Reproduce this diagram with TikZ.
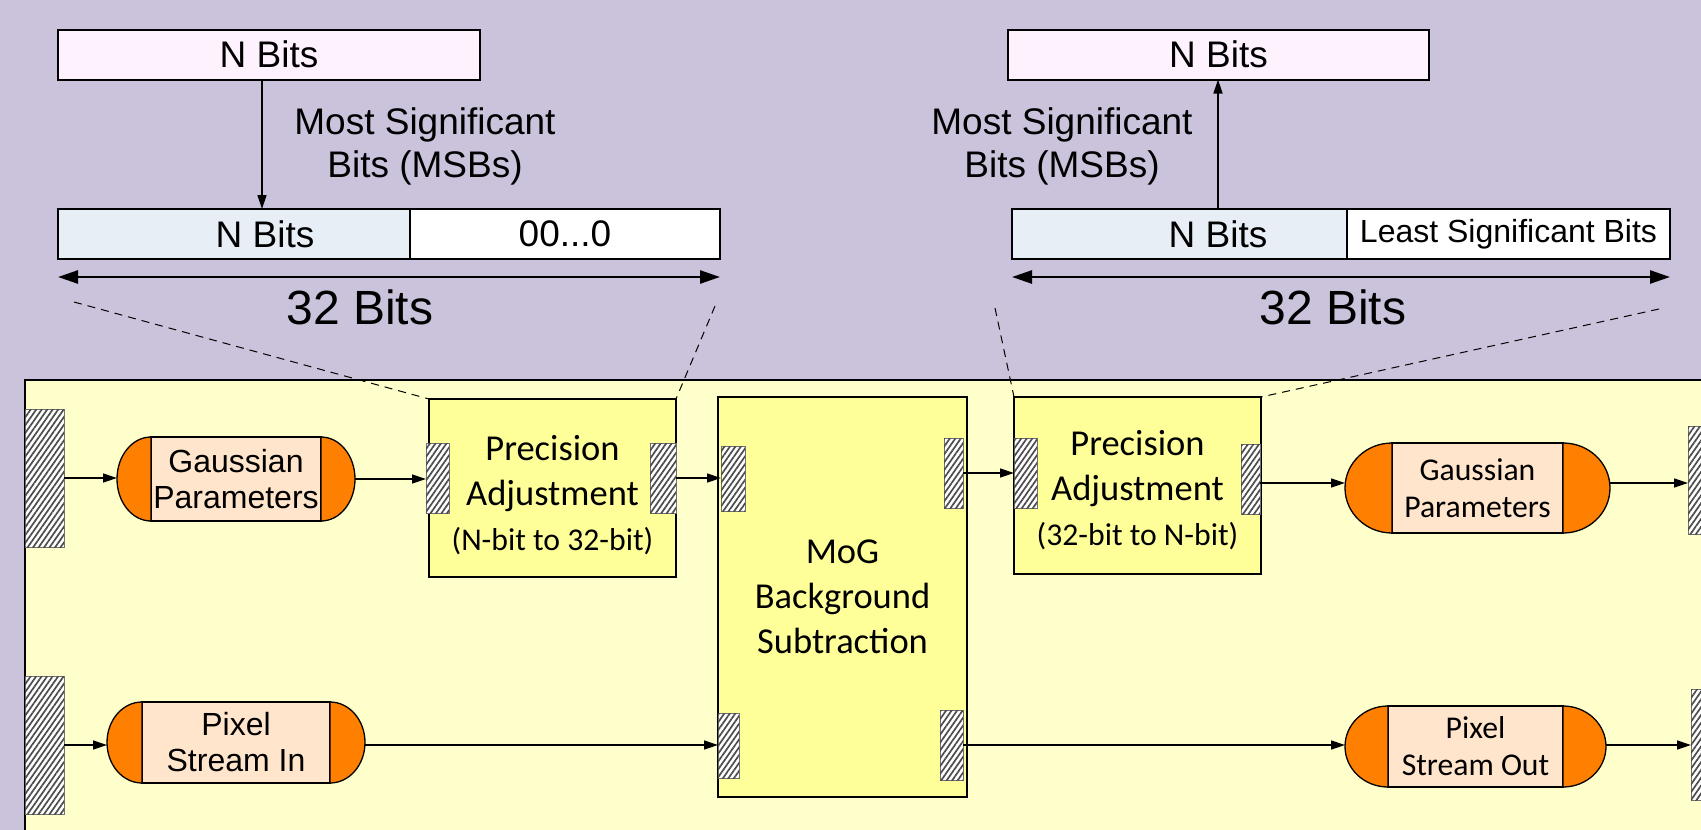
\documentclass[tikz,border=0pt]{standalone}
\usepackage{fontspec}
\setmainfont{Liberation Sans}
\newfontfamily\calibri{Carlito}
\usetikzlibrary{arrows.meta,patterns.meta}

\definecolor{bgpurple}{RGB}{203,195,219}
\definecolor{panelyel}{RGB}{255,255,204}
\definecolor{boxyel}{RGB}{255,255,153}
\definecolor{caporange}{RGB}{255,128,0}
\definecolor{peach}{RGB}{255,229,204}
\definecolor{pinkbox}{RGB}{255,242,255}
\definecolor{bluebox}{RGB}{232,238,245}

\tikzset{
  port/.style={draw=black!55, line width=1pt, fill=white, inner sep=0pt, outer sep=0pt,
    postaction={pattern={Lines[angle=55,distance=4.5pt,line width=1.7pt]}, pattern color=black!70}},
  procbox/.style={draw, line width=1.5pt, fill=boxyel, inner sep=0pt, outer sep=0pt},
  proctext/.style={align=center, font=\calibri\fontsize{36.5}{45}\selectfont},
  termout/.style={inner sep=0pt, outer sep=0pt},
  term/.style={draw, line width=1.3pt, fill=peach, inner sep=0pt, outer sep=0pt, align=center},
  termcap/.style={draw, line width=1.3pt, fill=caporange},
  arialterm/.style={font=\fontsize{32}{36}\selectfont},
  calterm/.style={font=\calibri\fontsize{31.7}{37}\selectfont},
  bitbox/.style={draw, line width=2pt, inner sep=0pt, outer sep=0pt, minimum height=50,
    font=\fontsize{37}{44}\selectfont},
  conn/.style={line width=1.4pt, -{Triangle[length=14pt,width=9pt]}},
  span/.style={line width=2.6pt, {Triangle[length=20pt,width=13pt]}-{Triangle[length=20pt,width=13pt]}},
  zoomline/.style={line width=1pt, dash pattern=on 8pt off 6pt},
  msbtext/.style={align=center, font=\fontsize{37}{43}\selectfont},
  bitstext/.style={font=\fontsize{48}{56}\selectfont}
}

\begin{document}
\begin{tikzpicture}[x=1pt,y=-1pt]
\clip (0,0) rectangle (1701,830);
\fill[bgpurple] (0,0) rectangle (1701,830);
\draw[line width=1.5pt, fill=panelyel] (25,380) rectangle (1740,860);

% left bit layout
\node[bitbox, fill=pinkbox, minimum width=422] (topL) at (269,54.5) {N Bits};
\node[bitbox, fill=bluebox, minimum width=414] (nbL) at (265,234) {N Bits};
\node[bitbox, fill=white, minimum width=310] (zeroL) at (565,234) {00...0};
\node[msbtext] (msbL) at (425,146) {Most Significant\\Bits (MSBs)};
\node[bitstext] (bitsL) at (360,307) {32 Bits};
\draw[conn] ([xshift=-7pt]topL.south) -- ([xshift=-7pt]topL.south |- nbL.north);
\draw[span] ([yshift=-18pt]nbL.south west) -- ([yshift=-18pt]zeroL.south east);

% right bit layout
\node[bitbox, fill=pinkbox, minimum width=421] (topR) at (1218.5,54.5) {N Bits};
\node[bitbox, fill=bluebox, minimum width=412] (nbR) at (1218,234) {N Bits};
\node[bitbox, fill=white, minimum width=323, font=\fontsize{32}{38}\selectfont] (lsbR) at (1508.5,234) {Least Significant Bits};
\node[msbtext] (msbR) at (1062,146) {Most Significant\\Bits (MSBs)};
\node[bitstext] (bitsR) at (1333,307) {32 Bits};
\draw[conn] (nbR.north) -- (nbR.north |- topR.south);
\draw[span] ([yshift=-18pt]nbR.south west) -- ([yshift=-18pt]lsbR.south east);

% blocks
\node[procbox, minimum width=247, minimum height=178] (pa1) at (552.5,488) {};
\node[proctext] (pa1txt) at ([yshift=-7pt]pa1.center) {Precision\\Adjustment\\{\fontsize{31.7}{45}\selectfont(N-bit to 32-bit)}};
\node[procbox, proctext, minimum width=249, minimum height=400] (mog) at (842.5,597) {MoG\\Background\\Subtraction};
\node[procbox, minimum width=247, minimum height=177] (pa2) at (1137.5,485.5) {};
\node[proctext] (pa2txt) at ([yshift=-5pt]pa2.center) {Precision\\Adjustment\\{\fontsize{31.7}{45}\selectfont(32-bit to N-bit)}};

\coordinate (zl1) at (74,302);
\coordinate (zl2) at (715,306);
\coordinate (zl3) at (995,308);
\coordinate (zl4) at (1659,309);
\draw[zoomline] (zl1) -- (pa1.north west);
\draw[zoomline] (zl2) -- (pa1.north east);
\draw[zoomline] (zl3) -- (pa2.north west);
\draw[zoomline] (zl4) -- (pa2.north east);

% terminators
\node[termout, minimum width=238, minimum height=84] (gp1) at (236,479) {};
\node[term, arialterm, minimum width=170, minimum height=84] (gp1t) at (gp1) {Gaussian\\Parameters};
\draw[termcap] (gp1t.north west) arc[start angle=90, end angle=270, x radius=34pt, y radius=42pt] -- cycle;
\draw[termcap] (gp1t.north east) arc[start angle=90, end angle=-90, x radius=34pt, y radius=42pt] -- cycle;

\node[termout, minimum width=258, minimum height=81] (psin) at (236,742.5) {};
\node[term, arialterm, minimum width=188, minimum height=81] (psint) at (psin) {Pixel\\Stream In};
\draw[termcap] (psint.north west) arc[start angle=90, end angle=270, x radius=35pt, y radius=40.5pt] -- cycle;
\draw[termcap] (psint.north east) arc[start angle=90, end angle=-90, x radius=35pt, y radius=40.5pt] -- cycle;

\node[termout, minimum width=265, minimum height=90] (gp2) at (1477.5,488) {};
\node[term, calterm, minimum width=171, minimum height=90] (gp2t) at (gp2) {Gaussian\\Parameters};
\draw[termcap] (gp2t.north west) arc[start angle=90, end angle=270, x radius=47pt, y radius=45pt] -- cycle;
\draw[termcap] (gp2t.north east) arc[start angle=90, end angle=-90, x radius=47pt, y radius=45pt] -- cycle;

\node[termout, minimum width=261, minimum height=81] (psout) at (1475.5,746.5) {};
\node[term, calterm, minimum width=175, minimum height=81] (psoutt) at (psout) {Pixel\\Stream Out};
\draw[termcap] (psoutt.north west) arc[start angle=90, end angle=270, x radius=43pt, y radius=40.5pt] -- cycle;
\draw[termcap] (psoutt.north east) arc[start angle=90, end angle=-90, x radius=43pt, y radius=40.5pt] -- cycle;

% ports
\node[port, minimum width=39, minimum height=138] (inL1) at (44.5,478) {};
\node[port, minimum width=39, minimum height=138] (inL2) at (44.5,745) {};
\node[port, minimum width=23, minimum height=70] (pa1L) at (437.5,478) {};
\node[port, minimum width=26, minimum height=70] (pa1R) at (663,478) {};
\node[port, minimum width=24, minimum height=65] (mogLT) at (733,478.5) {};
\node[port, minimum width=19, minimum height=70] (mogRT) at (953.5,473) {};
\node[port, minimum width=21, minimum height=65] (mogLB) at (728.5,745.5) {};
\node[port, minimum width=23, minimum height=70] (mogRB) at (951.5,745) {};
\node[port, minimum width=23, minimum height=70] (pa2L) at (1025.5,473) {};
\node[port, minimum width=19, minimum height=70] (pa2R) at (1250.5,479) {};
\node[port, minimum width=39, minimum height=108] (outR1) at (1707.5,480.5) {};
\node[port, minimum width=39, minimum height=111] (outR2) at (1710.5,744.5) {};

% connectors
\draw[conn] (inL1.east) -- (inL1.east -| gp1.west);
\draw[conn] (gp1.east) -- (gp1.east -| pa1L.west);
\draw[conn] (pa1R.east) -- (pa1R.east -| mogLT.west);
\draw[conn] (mogRT.east) -- (mogRT.east -| pa2L.west);
\draw[conn] ([yshift=-4pt]pa2R.east) -- ([yshift=-4pt]pa2R.east -| gp2.west);
\draw[conn] ([yshift=-4pt]pa2R.east -| gp2.east) -- ([yshift=-4pt]pa2R.east -| outR1.west);
\draw[conn] (inL2.east) -- (inL2.east -| psin.west);
\draw[conn] (psin.east |- inL2.east) -- (inL2.east -| mogLB.west);
\draw[conn] (mogRB.east) -- (mogRB.east -| psout.west);
\draw[conn] (psout.east |- mogRB.east) -- (mogRB.east -| outR2.west);
\end{tikzpicture}
\end{document}
